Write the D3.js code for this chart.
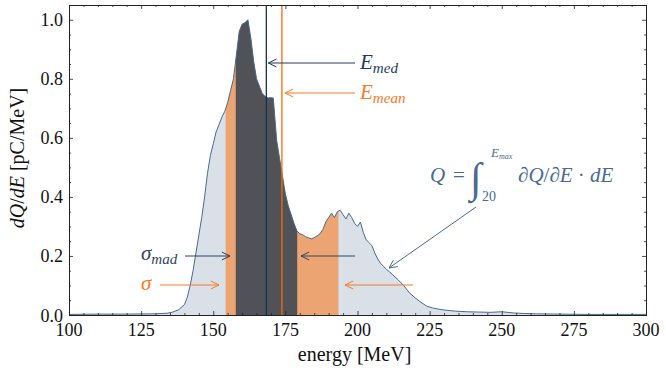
<!DOCTYPE html>
<html>
<head>
<meta charset="utf-8">
<script src="https://cdn.jsdelivr.net/npm/d3@7.9.0/dist/d3.min.js"></script>
<style>
  body { margin: 0; background: #fff; }
  svg { display: block; font-family: "Liberation Serif", "DejaVu Serif", serif; }
</style>
</head>
<body>
<svg id="chart" width="666" height="370"></svg>
<script>
// spectrum dQ/dE
const energy = [100, 110, 120, 130, 134, 136, 138, 140, 141, 142, 143, 144, 145, 146, 147, 148, 149, 150,
  151, 152, 153, 154, 155, 156, 157, 158, 159, 160, 161, 162, 163, 164, 165, 166, 167, 168, 169, 170, 170.8,
  172, 173, 174, 175, 176, 177, 178, 179, 180, 181, 182, 183, 184, 185, 186, 187, 188, 189, 190, 191, 192,
  193, 194, 195, 196, 197, 198, 199, 200, 201, 202, 203, 204, 205, 206, 207, 208, 209, 210, 211, 212, 214,
  216, 218, 220, 222, 224, 226, 228, 230, 234, 238, 242, 246, 250, 254, 258, 262, 270, 280, 300];
const dQdE = [0.002, 0.003, 0.003, 0.004, 0.006, 0.010, 0.018, 0.035, 0.060, 0.100, 0.150, 0.210, 0.270, 0.330,
  0.400, 0.480, 0.540, 0.580, 0.620, 0.645, 0.670, 0.690, 0.720, 0.760, 0.800, 0.880, 0.960, 0.985, 0.990,
  1.000, 0.940, 0.860, 0.800, 0.775, 0.750, 0.740, 0.735, 0.736, 0.735, 0.590, 0.530, 0.470, 0.410, 0.370,
  0.340, 0.310, 0.285, 0.275, 0.272, 0.265, 0.262, 0.258, 0.262, 0.268, 0.275, 0.290, 0.315, 0.330, 0.345,
  0.330, 0.350, 0.355, 0.340, 0.325, 0.345, 0.330, 0.310, 0.300, 0.315, 0.280, 0.255, 0.245, 0.235, 0.210,
  0.190, 0.175, 0.165, 0.155, 0.147, 0.138, 0.120, 0.100, 0.075, 0.058, 0.043, 0.030, 0.024, 0.020, 0.017,
  0.013, 0.011, 0.010, 0.009, 0.011, 0.007, 0.005, 0.004, 0.003, 0.002, 0.002];

// summary values (MeV)
const eMed = 168.4;
const eMean = 173.8;
const sigmaBand = [154.3, 193.4];
const madBand = [157.8, 179.1];

const xTicks = [100, 125, 150, 175, 200, 225, 250, 275, 300];
const yTicks = [0.0, 0.2, 0.4, 0.6, 0.8, 1.0];

const svg = d3.select('#chart');
const m = { left: 69, right: 20, top: 5, bottom: 55 };
const W = 666, H = 370;

const x = d3.scaleLinear().domain([100, 300]).range([m.left, W - m.right]);
const y = d3.scaleLinear().domain([0, 1.05]).range([H - m.bottom, m.top]);

const pts = energy.map((e, i) => [e, dQdE[i]]);

const area = d3.area().x(d => x(d[0])).y0(y(0)).y1(d => y(d[1]));
const line = d3.line().x(d => x(d[0])).y(d => y(d[1]));

// clip rects for the shaded bands
const defs = svg.append('defs');
function band(id, lo, hi) {
  defs.append('clipPath').attr('id', id)
    .append('rect')
    .attr('x', x(lo)).attr('width', x(hi) - x(lo))
    .attr('y', m.top).attr('height', y(0) - m.top);
}
band('clip-sigma', sigmaBand[0], sigmaBand[1]);
band('clip-mad', madBand[0], madBand[1]);

svg.append('path').datum(pts).attr('d', area).attr('fill', '#d9e0e8');
svg.append('path').datum(pts).attr('d', area).attr('fill', '#eca473')
  .attr('clip-path', 'url(#clip-sigma)');
svg.append('path').datum(pts).attr('d', area).attr('fill', '#505258')
  .attr('clip-path', 'url(#clip-mad)');
svg.append('path').datum(pts).attr('d', line)
  .attr('fill', 'none').attr('stroke', '#4b6a8e').attr('stroke-width', 1);

// median / mean lines
svg.append('line').attr('x1', x(eMed)).attr('x2', x(eMed))
  .attr('y1', m.top).attr('y2', y(0)).attr('stroke', '#17304f').attr('stroke-width', 1.3);
svg.append('line').attr('x1', x(eMean)).attr('x2', x(eMean))
  .attr('y1', m.top).attr('y2', y(0)).attr('stroke', '#f96a05').attr('stroke-width', 1.3);

// axes: ticks inside on all four sides
function ticksOn(g, scale, major, minorStep, side) {
  const [a, b] = scale.domain();
  const minor = d3.range(a, b + 1e-9, minorStep).filter(v => !major.some(t => Math.abs(t - v) < 1e-9));
  const gen = { bottom: d3.axisBottom, top: d3.axisTop, left: d3.axisLeft, right: d3.axisRight }[side];
  g.append('g').call(gen(scale).tickValues(minor).tickSize(-2).tickFormat(''));
  g.append('g').call(gen(scale).tickValues(major).tickSize(-4).tickFormat(''));
  g.selectAll('.domain').attr('stroke', '#222');
  g.selectAll('.tick line').attr('stroke', '#222').attr('stroke-width', 0.8);
}
ticksOn(svg.append('g').attr('transform', `translate(0,${y(0)})`), x, xTicks, 5, 'bottom');
ticksOn(svg.append('g').attr('transform', `translate(0,${m.top})`), x, xTicks, 5, 'top');
ticksOn(svg.append('g').attr('transform', `translate(${m.left},0)`), y, yTicks, 0.05, 'left');
ticksOn(svg.append('g').attr('transform', `translate(${W - m.right},0)`), y, yTicks, 0.05, 'right');
svg.selectAll('.domain').attr('stroke-width', 1);

svg.append('g').selectAll('text').data(xTicks).join('text')
  .attr('x', d => x(d)).attr('y', y(0) + 21)
  .attr('text-anchor', 'middle').attr('font-size', 18).attr('fill', '#111')
  .text(d => d);
svg.append('g').selectAll('text').data(yTicks).join('text')
  .attr('x', m.left - 6).attr('y', d => y(d) + 6.5)
  .attr('text-anchor', 'end').attr('font-size', 18).attr('fill', '#111')
  .text(d => d.toFixed(1));

svg.append('text').attr('x', x(199)).attr('y', 361)
  .attr('text-anchor', 'middle').attr('font-size', 20).attr('fill', '#111')
  .text('energy [MeV]');

const yl = svg.append('text')
  .attr('transform', `translate(24,${(m.top + y(0)) / 2 - 2}) rotate(-90)`)
  .attr('text-anchor', 'middle').attr('font-size', 20).attr('fill', '#111');
yl.append('tspan').attr('font-style', 'italic').text('dQ');
yl.append('tspan').text('/');
yl.append('tspan').attr('font-style', 'italic').text('dE');
yl.append('tspan').text(' [pC/MeV]');

// arrows
function arrow(x1, y1, x2, y2, color) {
  const ang = Math.atan2(y2 - y1, x2 - x1), h = 9, w = 0.45;
  svg.append('line').attr('x1', x1).attr('y1', y1).attr('x2', x2).attr('y2', y2)
    .attr('stroke', color).attr('stroke-width', 1);
  const p = [
    [x2 - h * Math.cos(ang - w), y2 - h * Math.sin(ang - w)],
    [x2, y2],
    [x2 - h * Math.cos(ang + w), y2 - h * Math.sin(ang + w)]
  ];
  svg.append('path').attr('d', d3.line()(p)).attr('fill', 'none')
    .attr('stroke', color).attr('stroke-width', 1);
}
function mathLabel(xp, yp, main, sub, color, size) {
  const t = svg.append('text').attr('x', xp).attr('y', yp)
    .attr('font-size', size).attr('fill', color).attr('font-style', 'italic');
  t.append('tspan').text(main);
  t.append('tspan').attr('dy', 4).attr('font-size', size * 0.72).text(sub);
}

const navy = '#1f3a5c', orange = '#f67a22', steel = '#4a6a8f';

arrow(355, 63, x(eMed) + 2, 63, navy);
mathLabel(360, 69, 'E', 'med', navy, 21);
arrow(355, 93, x(eMean) + 3, 93, orange);
mathLabel(360, 99, 'E', 'mean', orange, 21);

arrow(185, 256, 230, 256, '#2e4662');
arrow(355, 256, 301, 256, '#2e4662');
mathLabel(141, 260, 'σ', 'mad', '#2e4662', 21);
arrow(160, 285, 219, 285, orange);
arrow(413, 285, 345, 285, orange);
mathLabel(141, 290, 'σ', '', orange, 21);

// charge formula
arrow(476, 207, 389, 268, steel);
const q = svg.append('g').attr('fill', steel);
q.append('text').attr('x', 430).attr('y', 182).attr('font-size', 21)
  .attr('font-style', 'italic').text('Q');
q.append('text').attr('x', 453).attr('y', 182).attr('font-size', 21).text('=');
q.append('text').attr('x', 470).attr('y', 192).attr('font-size', 42)
  .attr('font-style', 'italic').text('∫');
const em = q.append('text').attr('x', 491).attr('y', 157).attr('font-size', 13).attr('font-style', 'italic');
em.append('tspan').text('E');
em.append('tspan').attr('font-size', 8).attr('dy', 2).text('max');
q.append('text').attr('x', 482).attr('y', 201).attr('font-size', 14).text('20');
const f = q.append('text').attr('x', 518).attr('y', 182).attr('font-size', 21);
f.append('tspan').text('∂');
f.append('tspan').attr('font-style', 'italic').text('Q');
f.append('tspan').text('/∂');
f.append('tspan').attr('font-style', 'italic').text('E');
f.append('tspan').text(' · ');
f.append('tspan').attr('font-style', 'italic').text('dE');
</script>
</body>
</html>
